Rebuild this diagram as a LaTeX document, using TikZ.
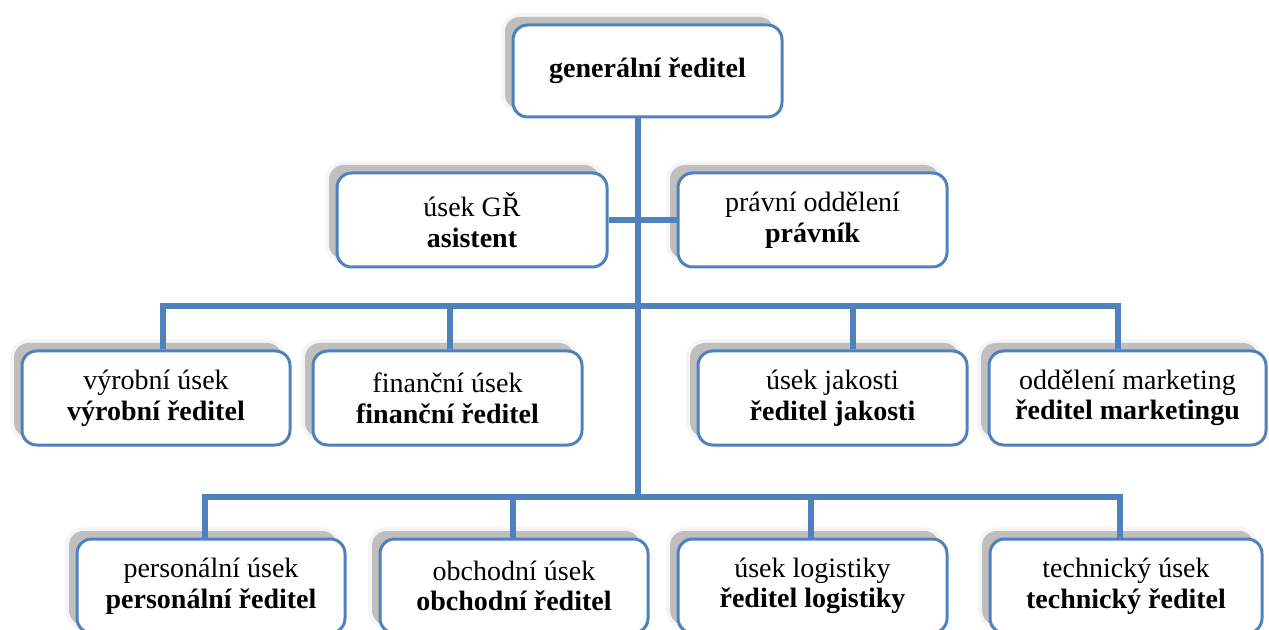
\documentclass[tikz,border=0pt]{standalone}
\usepackage{fontspec}
\setmainfont{Liberation Serif}
\usetikzlibrary{shadows}
\definecolor{boxblue}{HTML}{4F81BD}
\begin{document}
\begin{tikzpicture}[x=0.75pt,y=-0.75pt,
  unit/.style={draw=boxblue, line width=2.25pt, fill=white, rounded corners=11pt,
    align=center, inner sep=0pt, minimum height=70.5pt,
    font=\fontsize{21}{23}\selectfont,
    general shadow={fill=black!4, draw=black!4, line width=6pt,
      shadow xshift=-6pt, shadow yshift=6pt},
    general shadow={fill=black!25, draw=none,
      shadow xshift=-6pt, shadow yshift=6pt}},
  link/.style={draw=boxblue, line width=4pt, line join=miter}]
\useasboundingbox (0,0) rectangle (1269,630);

% top management
\node[unit, minimum width=201.75pt, minimum height=69pt] (top) at (647.5,71) {\textbf{generální ředitel}};
\node[unit, minimum width=202.5pt] (gr) at (472,220) {úsek GŘ\\\textbf{asistent}};
\node[unit, minimum width=201.75pt] (pravni) at (812.5,220) {právní oddělení\\\textbf{právník}};

% first row of divisions
\node[unit, minimum width=201pt] (vyrobni) at (156,398) {výrobní úsek\\\textbf{výrobní ředitel}};
\node[unit, minimum width=201.75pt] (financni) at (447.5,398) {finanční úsek\\\textbf{finanční ředitel}};
\node[unit, minimum width=201.75pt] (jakost) at (832.5,398) {úsek jakosti\\\textbf{ředitel jakosti}};
\node[unit, minimum width=207.75pt] (marketing) at (1127.5,398) {oddělení marketing\\\textbf{ředitel marketingu}};

% second row of divisions
\node[unit, minimum width=201pt] (personalni) at (211,586) {personální úsek\\\textbf{personální ředitel}};
\node[unit, minimum width=201pt] (obchodni) at (514,586) {obchodní úsek\\\textbf{obchodní ředitel}};
\node[unit, minimum width=201.75pt] (logistika) at (812.5,586) {úsek logistiky\\\textbf{ředitel logistiky}};
\node[unit, minimum width=204pt] (technicky) at (1126,586) {technický úsek\\\textbf{technický ředitel}};

% junction points
\coordinate (trunk) at (638,497);
\coordinate (r3a) at (163,306);
\coordinate (r3b) at (450,306);
\coordinate (r3c) at (853,306);
\coordinate (r3d) at (1118,306);
\coordinate (r4a) at (205,497);
\coordinate (r4b) at (513,497);
\coordinate (r4c) at (811,497);
\coordinate (r4d) at (1120,497);

% connectors
\draw[link] (top.south -| trunk) -- (trunk);
\draw[link] (gr.east) -- (pravni.west);
\draw[link] (vyrobni.north -| r3a) -- (r3a) -- (r3d) -- (marketing.north -| r3d);
\draw[link] (r3b) -- (financni.north -| r3b);
\draw[link] (r3c) -- (jakost.north -| r3c);
\draw[link] (personalni.north -| r4a) -- (r4a) -- (r4d) -- (technicky.north -| r4d);
\draw[link] (r4b) -- (obchodni.north -| r4b);
\draw[link] (r4c) -- (logistika.north -| r4c);
\end{tikzpicture}
\end{document}
